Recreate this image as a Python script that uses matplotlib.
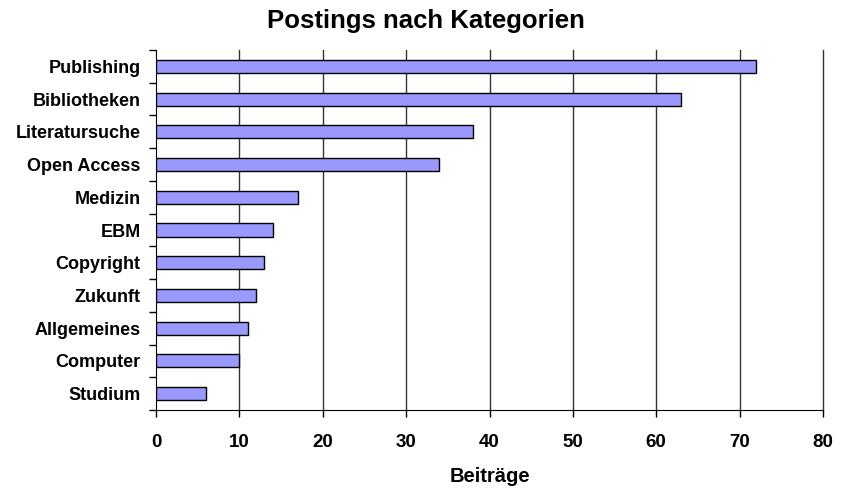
import matplotlib
matplotlib.use("Agg")
import matplotlib.pyplot as plt
import numpy as np

categories = ["Publishing", "Bibliotheken", "Literatursuche", "Open Access", "Medizin",
              "EBM", "Copyright", "Zukunft", "Allgemeines", "Computer", "Studium"]
values = [72, 63, 38, 34, 17, 14, 13, 12, 11, 10, 6]
xticks = [0, 10, 20, 30, 40, 50, 60, 70, 80]

plt.rcParams['font.family'] = ['Liberation Sans', 'DejaVu Sans']
plt.rcParams['font.weight'] = 'bold'

fig = plt.figure(figsize=(8.43, 4.91), dpi=100)
ax = fig.add_axes([156 / 843, 1 - 410 / 491, (823 - 156) / 843, 360 / 491])

n = len(categories)
ypos = np.arange(n)[::-1]
ax.barh(ypos, values, height=0.4, color="#9999FF", edgecolor="black", linewidth=1.0, zorder=3)

ax.set_xlim(0, 80)
ax.set_ylim(-0.5, n - 0.5)
ax.set_xticks(xticks)
ax.set_xticklabels([str(t) for t in xticks], fontsize=13.5, fontweight='bold')
ax.set_yticks(ypos)
ax.set_yticklabels(categories, fontsize=13, fontweight='bold')
ax.set_yticks(np.arange(-0.5, n, 1.0), minor=True)
ax.tick_params(axis='y', which='major', length=0, pad=11)
ax.tick_params(axis='y', which='minor', length=5, width=1, direction='out')
ax.tick_params(axis='x', length=5, width=1, direction='out', pad=12)

for t in xticks[1:]:
    ax.axvline(t, color="#333333", linewidth=1.0, zorder=1, clip_on=False)

for s in ['top', 'right']:
    ax.spines[s].set_visible(False)
ax.spines['left'].set_color('black')
ax.spines['bottom'].set_color('black')

ax.set_xlabel("Beiträge", fontsize=14.5, fontweight='bold', labelpad=12)
fig.text(426 / 843, 1 - 21 / 491, "Postings nach Kategorien", ha='center', va='center',
         fontsize=18.5, fontweight='bold')

fig.savefig("out.png", dpi=100)
